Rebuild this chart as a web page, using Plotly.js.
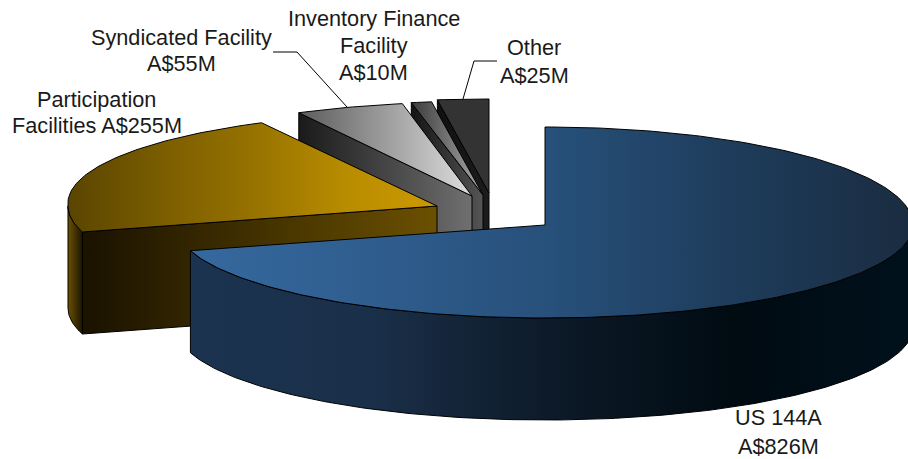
<!DOCTYPE html>
<html><head><meta charset="utf-8">
<script src="https://cdn.plot.ly/plotly-3.0.1.min.js"></script>
<style>html,body{margin:0;padding:0;background:#fff}#c{width:908px;height:459px}</style></head>
<body><div id="c"></div>
<script>
// Data
const categories = ["US 144A","Participation Facilities","Syndicated Facility","Inventory Finance Facility","Other"];
const values = [826,255,55,10,25];
// Projection of each exploded wedge
const apexX = [545,437,472,483,489];
const apexY = [225,206,196,195,193];
const radiusLeft = [369,369,373,384,386];
const radiusLeftBackExtra = [0,10,0,0,0];
const radiusRight = [368,363,363,363,363];
const radiusBack = [98,94,94,94,94];
const radiusFront = [93,94,94,94,94];
const depth = [102,102,100,100,100];
// Styles
const topColors = [
  ["#36699f","#2f5d8e","#27507a","#1e3c5b","#1a2c40"],
  ["#5a4400","#7a5d00","#967200","#b88c00","#cc9900"],
  ["#5c5c5c","#dedede"],["#3a3a3a","#ababab"],["#333333","#333333"]];
const cutColors = [null,["#1a1200","#6b5000"],["#1a1a1a","#707070"],["#141414","#555555"],["#101010","#1c1c1c"]];
const rimColors = [["#1b3350","#1a2f49","#0d1a28","#000b12","#00111c"],["#6b5100","#1c1500"]];
const labelLines = [
  ["Syndicated Facility",181,37.5],["A$55M",181,63.5],
  ["Inventory Finance",373.5,18.5],["Facility",373.5,45.5],["A$10M",373.5,72.5],
  ["Other",534,47.5],["A$25M",534,75.5],
  ["Participation",96.5,99.5],["Facilities A$255M",96.5,125.5],
  ["US 144A",778,417.5],["A$826M",778,446.5]
];
const leaders = ["M273,52 L297,52 L347,107","M497,61 L474,61 L463,99"];

const total = values.reduce((a,b)=>a+b,0);
const rad = d=>d*Math.PI/180;
function pt(i,a,dz){
  const s=Math.sin(rad(a)), c=Math.cos(rad(a));
  const rx = s>0 ? radiusRight[i] : radiusLeft[i]+radiusLeftBackExtra[i]*Math.max(0,c);
  const ry = c>0 ? radiusBack[i] : radiusFront[i];
  return [apexX[i]+rx*s, apexY[i]-ry*c+(dz||0)];
}
function arc(i,a0,a1,dz){const out=[];const n=Math.max(2,Math.ceil(Math.abs(a1-a0)));for(let k=0;k<=n;k++)out.push(pt(i,a0+(a1-a0)*k/n,dz));return out;}
function scale(cols){return cols.map((c,k)=>[k/(cols.length-1),c]);}
function poly(points,cols){
  return {type:"scatter",mode:"lines",x:points.map(p=>p[0]),y:points.map(p=>p[1]),fill:"toself",
    fillgradient:{type:"horizontal",colorscale:scale(cols)},line:{color:"#000",width:1},hoverinfo:"skip",showlegend:false};
}
const bounds=[];let run=0;values.forEach(v=>{bounds.push([run,run+v/total*360]);run+=v/total*360;});
const traces=[];
for(let i=values.length-1;i>=0;i--){
  const [a0,a1]=bounds[i];
  const apex=[apexX[i],apexY[i]];
  if(i===0){
    const top=arc(0,90,a1,0), bot=arc(0,a1,90,depth[0]);
    traces.push(poly(top.concat(bot).concat([top[0]]),rimColors[0]));
  } else {
    const p=pt(i,a0,0);
    traces.push(poly([apex,[apex[0],apex[1]+depth[i]],[p[0],p[1]+depth[i]],p,apex],cutColors[i]));
    if(a0<270){
      const top=arc(i,a0,270,0), bot=arc(i,270,a0,depth[i]);
      traces.push(poly(top.concat(bot).concat([top[0]]),rimColors[1]));
    }
  }
  const face=[apex].concat(arc(i,a0,a1,0)).concat([apex]);
  traces.push(poly(face,topColors[i]));
}
const annotations=labelLines.map(l=>({text:l[0],x:l[1],y:l[2],xref:"x",yref:"y",showarrow:false,xanchor:"center",yanchor:"middle",
  font:{family:"Liberation Sans",size:21.7,color:"#1a1a1a"}}));
const shapes=leaders.map(p=>({type:"path",path:p,xref:"x",yref:"y",line:{color:"#000",width:1}}));
const axis=r=>({range:r,visible:false,fixedrange:true});
Plotly.newPlot("c",traces,{width:908,height:459,margin:{l:0,r:0,t:0,b:0},paper_bgcolor:"#fff",plot_bgcolor:"#fff",
  xaxis:axis([0,908]),yaxis:axis([459,0]),annotations,shapes,showlegend:false,hovermode:false},{displayModeBar:false,staticPlot:true});
</script></body></html>
